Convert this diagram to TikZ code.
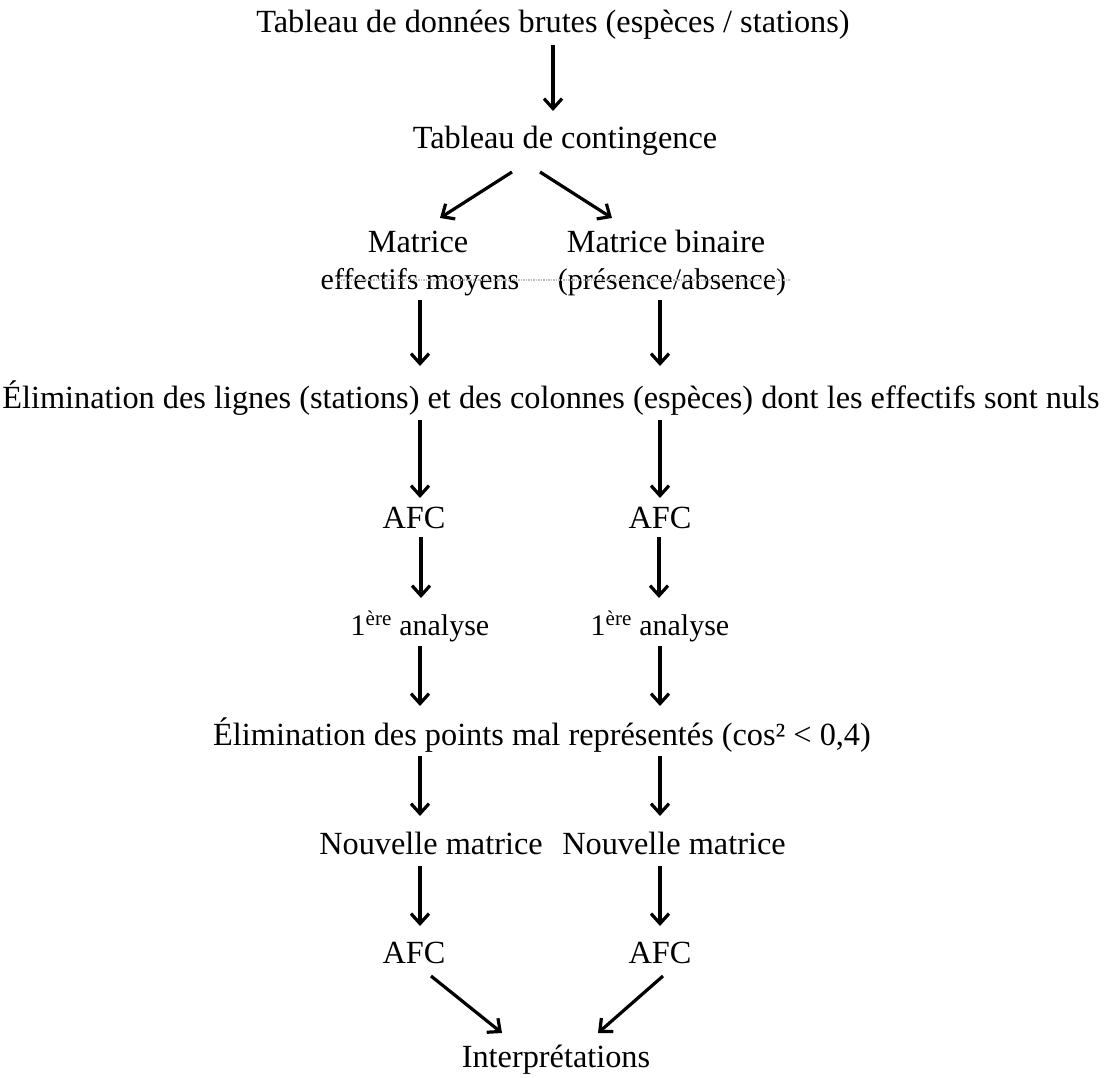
\documentclass[tikz,border=0pt]{standalone}
\usepackage{fontspec}
\setmainfont{Liberation Serif}
\usetikzlibrary{arrows.meta}
\tikzset{
  txt/.style={anchor=base, inner sep=0pt, font=\fontsize{32.3}{38}\selectfont},
  smalltxt/.style={anchor=base, inner sep=0pt, font=\fontsize{30}{36}\selectfont},
  arr/.style={line width=3.2pt, -{Straight Barb[length=10pt,width=18pt,line width=3.2pt]}},
  scanline/.style={gray!50, line width=1.5pt, densely dotted}
}
\begin{document}
\begin{tikzpicture}[x=1pt,y=-1pt]
\useasboundingbox (0,0) rectangle (1105,1078);
% texts
\node[txt] (t1) at (553,33) {Tableau de données brutes (espèces / stations)};
\node[txt] (t2) at (565,149) {Tableau de contingence};
\node[txt] (m1) at (418,252) {Matrice};
\node[txt] (m2) at (666,252) {Matrice binaire};
\node[smalltxt] (e1) at (420,289) {effectifs moyens};
\node[smalltxt] (e2) at (672,289) {(présence/absence)};
\node[txt] (el1) at (551,408) {Élimination des lignes (stations) et des colonnes (espèces) dont les effectifs sont nuls};
\node[txt] (a1) at (414,528) {AFC};
\node[txt] (a2) at (660,528) {AFC};
\node[smalltxt] (p1) at (420,635) {1\textsuperscript{ère} analyse};
\node[smalltxt] (p2) at (660,635) {1\textsuperscript{ère} analyse};
\node[txt] (el2) at (542,745) {Élimination des points mal représentés (cos² < 0,4)};
\node[txt] (n1) at (431,854) {Nouvelle matrice};
\node[txt] (n2) at (674,854) {Nouvelle matrice};
\node[txt] (f1) at (414,963) {AFC};
\node[txt] (f2) at (660,963) {AFC};
\node[txt] (ip) at (556,1067) {Interprétations};
% scan line
\coordinate (sa) at (338,280);
\coordinate (sb) at (790,280);
\draw[scanline] (sa) -- (sb);
% arrow coordinates
\coordinate (c1s) at (553,45);  \coordinate (c1e) at (553,111);
\coordinate (dls) at (512,172); \coordinate (dle) at (440,218);
\coordinate (drs) at (540,172); \coordinate (dre) at (612,218);
\coordinate (l1s) at (420,300); \coordinate (l1e) at (420,366);
\coordinate (r1s) at (660,300); \coordinate (r1e) at (660,366);
\coordinate (l2s) at (420,420); \coordinate (l2e) at (420,498);
\coordinate (r2s) at (660,420); \coordinate (r2e) at (660,498);
\coordinate (l3s) at (421,537); \coordinate (l3e) at (421,598);
\coordinate (r3s) at (659,537); \coordinate (r3e) at (659,598);
\coordinate (l4s) at (420,646); \coordinate (l4e) at (420,706);
\coordinate (r4s) at (660,646); \coordinate (r4e) at (660,706);
\coordinate (l5s) at (420,756); \coordinate (l5e) at (420,816);
\coordinate (r5s) at (660,756); \coordinate (r5e) at (660,816);
\coordinate (l6s) at (420,866); \coordinate (l6e) at (420,926);
\coordinate (r6s) at (660,866); \coordinate (r6e) at (660,926);
\coordinate (gls) at (431,976); \coordinate (gle) at (502,1033);
\coordinate (grs) at (663,976); \coordinate (gre) at (598,1033);
% arrows
\draw[arr] (c1s) -- (c1e);
\draw[arr] (dls) -- (dle);
\draw[arr] (drs) -- (dre);
\draw[arr] (l1s) -- (l1e);
\draw[arr] (r1s) -- (r1e);
\draw[arr] (l2s) -- (l2e);
\draw[arr] (r2s) -- (r2e);
\draw[arr] (l3s) -- (l3e);
\draw[arr] (r3s) -- (r3e);
\draw[arr] (l4s) -- (l4e);
\draw[arr] (r4s) -- (r4e);
\draw[arr] (l5s) -- (l5e);
\draw[arr] (r5s) -- (r5e);
\draw[arr] (l6s) -- (l6e);
\draw[arr] (r6s) -- (r6e);
\draw[arr] (gls) -- (gle);
\draw[arr] (grs) -- (gre);
\end{tikzpicture}
\end{document}
